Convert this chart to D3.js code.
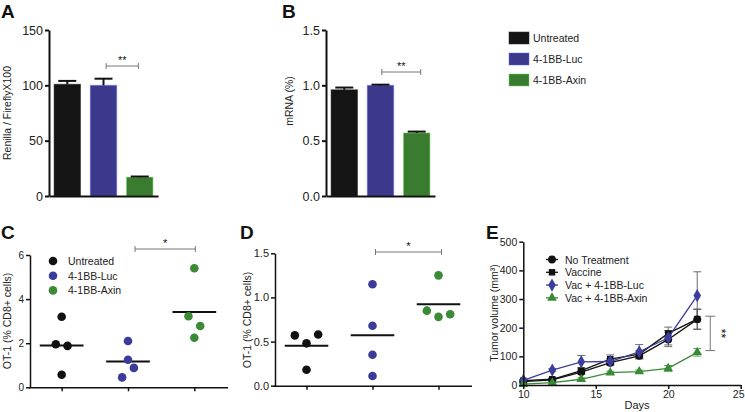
<!DOCTYPE html>
<html><head><meta charset="utf-8">
<script src="https://cdn.jsdelivr.net/npm/d3@7"></script>
<style>body{margin:0;background:#fff}svg{display:block;font-family:"Liberation Sans",Arial,Helvetica,sans-serif}</style>
</head><body><svg id="c" width="745" height="412"></svg>
<script>
// ---------- data ----------
const groups = ["Untreated", "4-1BB-Luc", "4-1BB-Axin"];
const groupColors = ["#141414", "#3a398c", "#3a7c2f"];
const dotColors = ["#111111", "#3b3b9c", "#3b8a35"];

const renillaMean = [101, 100, 17];
const renillaErr = [3, 6, 0.6];
const renillaTicks = [0, 50, 100, 150];

const mrnaMean = [0.96, 1.00, 0.57];
const mrnaErr = [0.02, 0.006, 0.012];
const mrnaTicks = [0, 0.5, 1.0, 1.5];

const ot1C = [[3.2, 1.95, 1.88, 0.57], [2.1, 1.25, 0.88, 0.45], [5.4, 3.22, 2.78, 2.25]];
const ot1CSlot = [[0, -0.5, 0.5, 0], [0, 0, 0.5, -0.5], [0, -0.5, 0.5, 0]];
const ot1CTicks = [0, 2, 4, 6];

const ot1D = [[0.57, 0.48, 0.58, 0.18], [1.15, 0.68, 0.35, 0.11], [1.25, 0.85, 0.78, 0.81]];
const ot1DSlot = [[-1, 0, 1, 0], [0, 0, 0, 0], [0, -1, 0, 1]];
const ot1DTicks = [0, 0.5, 1.0, 1.5];

const days = [10, 12, 14, 16, 18, 20, 22];
const dayTicks = [10, 15, 20, 25];
const volumeTicks = [0, 100, 200, 300, 400, 500];
const tumorSeries = ["No Treatment", "Vaccine", "Vac  + 4-1BB-Luc", "Vac  + 4-1BB-Axin"];
const noTreatment = [12, 18, 45, 78, 102, 159, 229];
const vaccine = [15, 20, 50, 90, 108, 180, 230];
const vacLuc = [16, 52, 81, 82, 116, 165, 312];
const vacAxin = [3, 8, 20, 43, 47, 58, 114];
const noTreatmentErr = [3, 4, 8, 10, 10, 25, 35];
const vaccineErr = [4, 5, 10, 15, 12, 22, 35];
const vacLucErr = [3, 5, 22, 10, 25, 25, 83];
const vacAxinErr = [2, 3, 5, 5, 5, 10, 13];
const tumorColors = ["#111111", "#111111", "#3d3d9e", "#3a8a35"];
const tumorSymbols = [d3.symbolCircle, d3.symbolSquare, d3.symbolDiamond, d3.symbolTriangle];

// ---------- helpers ----------
const svg = d3.select("#c");

function styleAxis(sel, fs, sw) {
  sel.select(".domain").attr("stroke", "#111").attr("stroke-width", sw);
  sel.selectAll(".tick line").attr("stroke", "#111").attr("stroke-width", sw);
  sel.selectAll(".tick text").attr("font-size", fs).attr("fill", "#222")
    .attr("font-family", '"Liberation Sans",Arial,sans-serif');
  sel.attr("font-family", null);
}

function panelLabel(t, x, y) {
  svg.append("text").attr("x", x).attr("y", y).attr("font-size", 19)
    .attr("font-weight", "bold").attr("fill", "#111").text(t);
}

function yLabel(t, x, y, fs) {
  return svg.append("text").attr("transform", `translate(${x},${y}) rotate(-90)`)
    .attr("text-anchor", "middle").attr("font-size", fs).attr("fill", "#222").text(t);
}

function sigBracket(x1, x2, y, label) {
  const g = svg.append("g").attr("stroke", "#777").attr("stroke-width", 1);
  g.append("line").attr("x1", x1).attr("x2", x2).attr("y1", y).attr("y2", y);
  g.append("line").attr("x1", x1).attr("x2", x1).attr("y1", y - 3).attr("y2", y + 3);
  g.append("line").attr("x1", x2).attr("x2", x2).attr("y1", y - 3).attr("y2", y + 3);
  svg.append("text").attr("x", (x1 + x2) / 2).attr("y", y - 2).attr("text-anchor", "middle")
    .attr("font-size", 11).attr("fill", "#111").text(label);
}

// ---------- bar panels (A, B) ----------
function barPanel(o) {
  const y = d3.scaleLinear().domain(o.domain).range(o.yRange);
  const x = d3.scaleBand().domain(groups).range(o.xRange).paddingInner(0.27).paddingOuter(0.14);
  const g = svg.append("g");
  g.selectAll("rect").data(o.means).join("rect")
    .attr("x", (d, i) => x(groups[i])).attr("width", x.bandwidth())
    .attr("y", d => y(d)).attr("height", d => y(o.domain[0]) - y(d))
    .attr("fill", (d, i) => groupColors[i])
    .attr("stroke", (d, i) => d3.color(groupColors[i]).brighter(1.6))
    .attr("stroke-opacity", 0.5).attr("stroke-width", 1);
  const cap = x.bandwidth() * 0.34;
  o.means.forEach((m, i) => {
    const cx = x(groups[i]) + x.bandwidth() / 2;
    const top = y(m + o.errs[i]);
    g.append("line").attr("x1", cx).attr("x2", cx).attr("y1", y(m)).attr("y2", top)
      .attr("stroke", "#111").attr("stroke-width", 2);
    g.append("line").attr("x1", cx - cap).attr("x2", cx + cap).attr("y1", top).attr("y2", top)
      .attr("stroke", "#111").attr("stroke-width", 2);
  });
  const ay = g.append("g").attr("transform", `translate(${o.xRange[0]},0)`)
    .call(d3.axisLeft(y).tickValues(o.ticks).tickFormat(o.fmt).tickSize(4).tickSizeOuter(0).tickPadding(2));
  styleAxis(ay, 12.5, 2);
  const ax = g.append("g").attr("transform", `translate(0,${y(o.domain[0])})`)
    .call(d3.axisBottom(x).tickSize(0).tickSizeOuter(0).tickFormat(""));
  styleAxis(ax, 12, 2);
  return {x, y};
}

const A = barPanel({domain: [0, 150], yRange: [196, 30], xRange: [49, 158], means: renillaMean,
  errs: renillaErr, ticks: renillaTicks, fmt: d3.format("d")});
panelLabel("A", 1, 18);
yLabel("Renilla / FireflyX100", 11, 113, 10.5);
sigBracket(A.x(groups[1]) + A.x.bandwidth() * 0.6, A.x(groups[2]) + A.x.bandwidth() * 0.45, 66, "**");

const B = barPanel({domain: [0, 1.5], yRange: [196, 30], xRange: [326, 435], means: mrnaMean,
  errs: mrnaErr, ticks: mrnaTicks, fmt: d3.format(".1f")});
panelLabel("B", 282, 18);
yLabel("mRNA (%)", 293, 101, 10.5);
sigBracket(B.x(groups[1]) + B.x.bandwidth() * 0.55, B.x(groups[2]) + B.x.bandwidth() * 0.65, 72, "**");

// legend for A/B
const legB = svg.append("g").attr("transform", "translate(509,32)");
groups.forEach((gname, i) => {
  const r = legB.append("g").attr("transform", `translate(0,${i * 21})`);
  r.append("rect").attr("width", 20).attr("height", 12).attr("fill", groupColors[i])
    .attr("stroke", d3.color(groupColors[i]).brighter(1.6)).attr("stroke-opacity", 0.5);
  r.append("text").attr("x", 24).attr("y", 10).attr("font-size", 10.5).attr("fill", "#222").text(gname);
});

// ---------- dot panels (C, D) ----------
function dotPanel(o) {
  const y = d3.scaleLinear().domain(o.domain).range(o.yRange);
  const x = d3.scalePoint().domain(groups).range(o.xRange).padding(0.5);
  const g = svg.append("g");
  const slotW = x.step() * 0.177;
  const half = x.step() * 0.33;
  o.values.forEach((vals, i) => {
    const cx = x(groups[i]);
    const m = d3.mean(vals);
    g.append("line").attr("x1", cx - half).attr("x2", cx + half).attr("y1", y(m)).attr("y2", y(m))
      .attr("stroke", "#111").attr("stroke-width", 2);
    g.selectAll(null).data(vals).join("circle")
      .attr("cx", (d, j) => cx + o.slots[i][j] * slotW).attr("cy", d => y(d)).attr("r", 4.3)
      .attr("fill", dotColors[i]);
  });
  const ay = g.append("g").attr("transform", `translate(${o.xRange[0] + 1.5},0)`)
    .call(d3.axisLeft(y).tickValues(o.ticks).tickFormat(o.fmt).tickSize(4).tickSizeOuter(0).tickPadding(2));
  styleAxis(ay, o.fs, 1.5);
  const ax = g.append("g").attr("transform", `translate(0,${y(o.domain[0])})`)
    .call(d3.axisBottom(x).tickSize(4).tickSizeOuter(0).tickFormat(""));
  styleAxis(ax, o.fs, 1.5);
  return {x, y};
}

const C = dotPanel({domain: [0, 6], yRange: [387.3, 255], xRange: [28.5, 227.5], values: ot1C,
  slots: ot1CSlot, ticks: ot1CTicks, fmt: d3.format("d"), fs: 10});
panelLabel("C", 1, 239);
yLabel("OT-1 (% CD8+ cells)", 11, 321, 10.5);
sigBracket(C.x(groups[1]) + 7, C.x(groups[2]) + 1, 249, "*");
// legend C
const legC = svg.append("g").attr("transform", "translate(53,261)");
groups.forEach((gname, i) => {
  const r = legC.append("g").attr("transform", `translate(0,${i * 14.7})`);
  r.append("circle").attr("r", 4.3).attr("fill", dotColors[i]);
  r.append("text").attr("x", 15).attr("y", 4).attr("font-size", 10.5).attr("fill", "#222").text(gname);
});

const D = dotPanel({domain: [0, 1.5], yRange: [385.7, 253.3], xRange: [273.5, 471.5], values: ot1D,
  slots: ot1DSlot, ticks: ot1DTicks, fmt: d3.format(".1f"), fs: 11});
panelLabel("D", 240, 239);
yLabel("OT-1 (% CD8+ cells)", 251, 320, 10.5);
sigBracket(D.x(groups[1]) + 3, D.x(groups[2]) + 3, 252, "*");

// ---------- line panel (E) ----------
const xE = d3.scaleLinear().domain([10, 25]).range([523.3, 740.7]);
const yE = d3.scaleLinear().domain([0, 500]).range([385, 241.7]);
const gE = svg.append("g");
const seriesVals = [noTreatment, vaccine, vacLuc, vacAxin];
const seriesErrs = [noTreatmentErr, vaccineErr, vacLucErr, vacAxinErr];
const line = d3.line().x((d, i) => xE(days[i])).y(d => yE(d));
const symSizes = [48, 42, 50, 40];
seriesVals.forEach((vals, s) => {
  const col = tumorColors[s];
  vals.forEach((v, i) => {
    const e = seriesErrs[s][i];
    const cx = xE(days[i]);
    const eg = gE.append("g").attr("stroke", s === 3 ? col : "#555").attr("stroke-width", 1).attr("opacity", 0.85);
    eg.append("line").attr("x1", cx).attr("x2", cx).attr("y1", yE(v - e)).attr("y2", yE(v + e));
    eg.append("line").attr("x1", cx - 4).attr("x2", cx + 4).attr("y1", yE(v + e)).attr("y2", yE(v + e));
    eg.append("line").attr("x1", cx - 4).attr("x2", cx + 4).attr("y1", yE(v - e)).attr("y2", yE(v - e));
  });
});
seriesVals.forEach((vals, s) => {
  const col = tumorColors[s];
  gE.append("path").datum(vals).attr("d", line).attr("fill", "none").attr("stroke", col).attr("stroke-width", 1.3);
  gE.selectAll(null).data(vals).join("path")
    .attr("transform", (d, i) => `translate(${xE(days[i])},${yE(d)})`)
    .attr("d", d3.symbol().type(tumorSymbols[s]).size(symSizes[s])).attr("fill", col);
});
const axE = gE.append("g").attr("transform", `translate(${xE(10)},0)`)
  .call(d3.axisLeft(yE).tickValues(volumeTicks).tickSize(4).tickSizeOuter(0).tickPadding(2));
styleAxis(axE, 10.5, 1.5);
const axEx = gE.append("g").attr("transform", `translate(0,${yE(0)})`)
  .call(d3.axisBottom(xE).tickValues(dayTicks).tickSize(4).tickSizeOuter(0).tickPadding(2));
styleAxis(axEx, 10.5, 1.5);
axEx.selectAll(".tick text").filter(d => d === 25).attr("dx", "-2.5");
panelLabel("E", 486, 239);
yLabel("Tumor volume (mm³)", 498, 313, 10.5);
svg.append("text").attr("x", (xE(10) + xE(25)) / 2 + 5).attr("y", 409).attr("text-anchor", "middle")
  .attr("font-size", 11).attr("fill", "#222").text("Days");
// ** bracket E
const bx = xE(22.9);
const bE = svg.append("g").attr("stroke", "#777").attr("stroke-width", 1);
bE.append("line").attr("x1", bx).attr("x2", bx).attr("y1", yE(240)).attr("y2", yE(120));
bE.append("line").attr("x1", bx - 5).attr("x2", bx + 5).attr("y1", yE(240)).attr("y2", yE(240));
bE.append("line").attr("x1", bx - 5).attr("x2", bx + 5).attr("y1", yE(120)).attr("y2", yE(120));
svg.append("text").attr("transform", `translate(${bx + 7},${yE(180)}) rotate(90)`)
  .attr("text-anchor", "middle").attr("font-size", 12).attr("fill", "#111").text("**");
// legend E
const legE = svg.append("g").attr("transform", "translate(552,259.5)");
tumorSeries.forEach((name, s) => {
  const r = legE.append("g").attr("transform", `translate(0,${s * 12.8})`);
  r.append("line").attr("x1", -6).attr("x2", 6).attr("stroke", tumorColors[s]).attr("stroke-width", 1.3);
  r.append("path").attr("d", d3.symbol().type(tumorSymbols[s]).size(symSizes[s])).attr("fill", tumorColors[s]);
  r.append("text").attr("x", 13).attr("y", 4).attr("font-size", 10.5).attr("fill", "#222").text(name);
});
</script></body></html>
